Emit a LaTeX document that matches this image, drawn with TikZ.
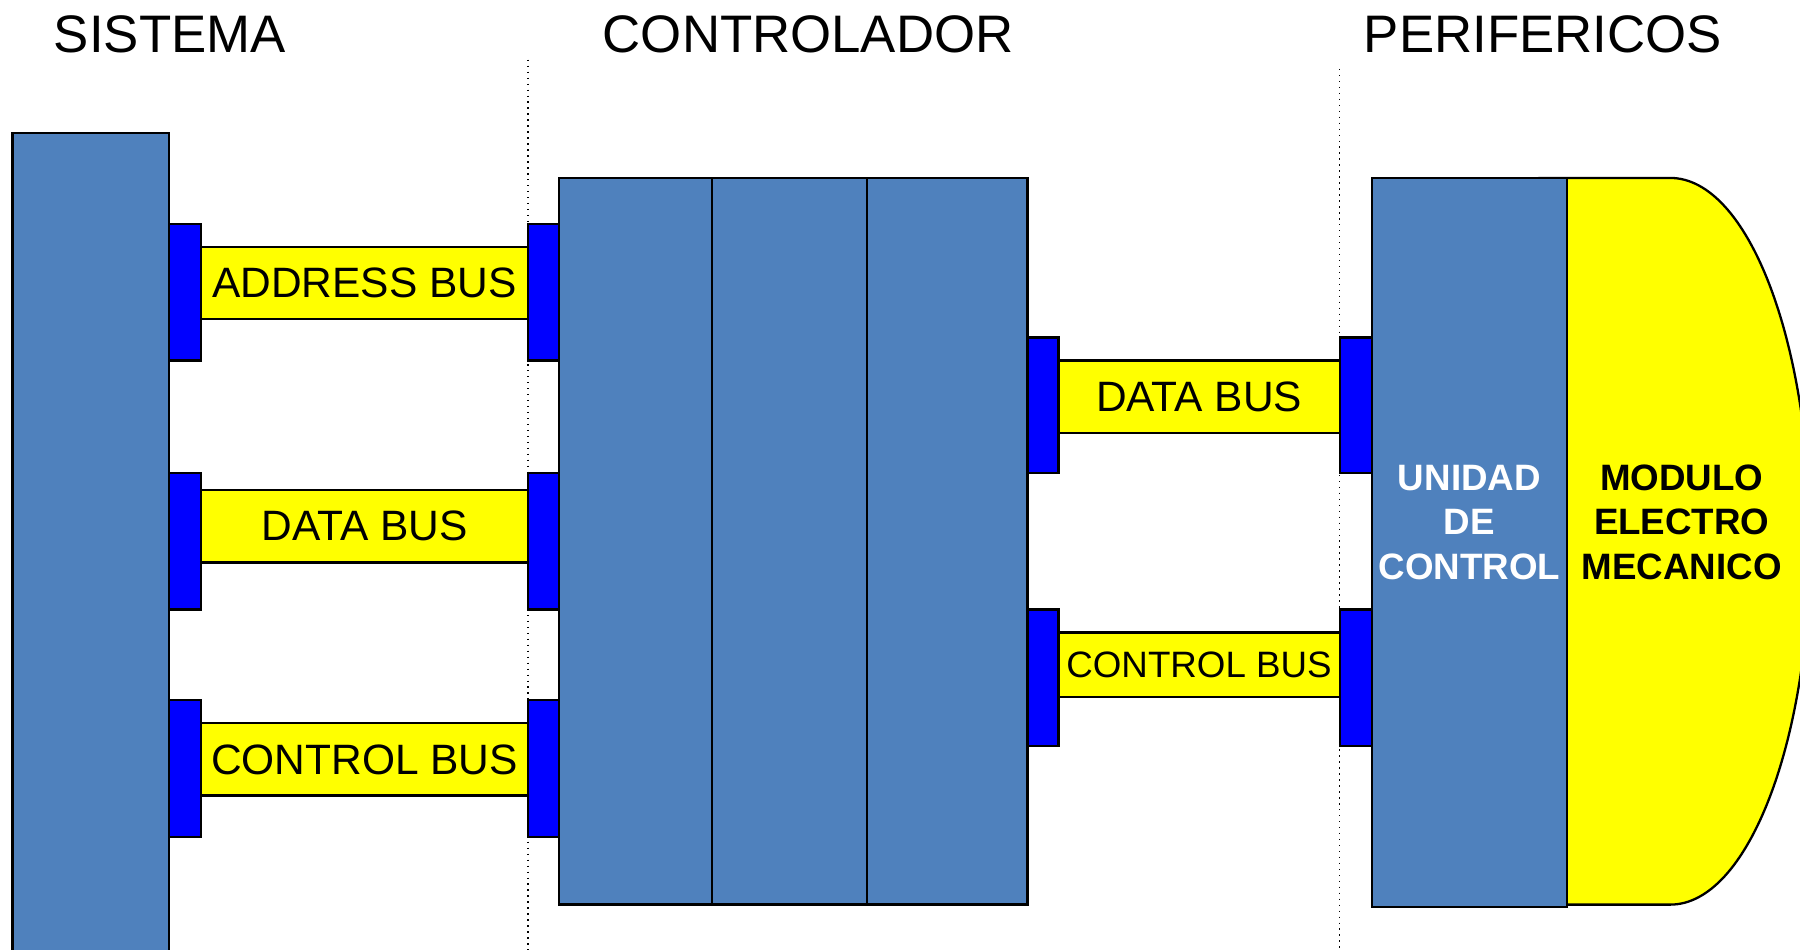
\documentclass[tikz,border=0pt]{standalone}
\usepackage{fontspec}
\setmainfont{Liberation Sans}
\definecolor{steel}{HTML}{4F81BD}
\definecolor{pblue}{HTML}{0000FF}
\definecolor{pyellow}{HTML}{FFFF00}
% #1 style, #2 name, #3 x1, #4 y1, #5 x2, #6 y2, #7 text
\newcommand\rbox[7]{\node[#1, minimum width={(#5-#3)*0.5pt}, minimum height={(#6-#4)*0.5pt}] (#2) at ({(#3+#5)/2},{(#4+#6)/2}) {#7};}
\begin{document}
\begin{tikzpicture}[x=0.5pt,y=-0.5pt,
  box/.style={draw=black, line width=1pt, inner sep=0pt, outer sep=0pt},
  sysbox/.style={box, fill=steel},
  portbox/.style={box, fill=pblue},
  busbox/.style={box, fill=pyellow, font=\fontsize{18.5}{20}\selectfont},
  smallbus/.style={busbox, font=\fontsize{16}{18}\selectfont},
  title/.style={font=\fontsize{23}{26}\selectfont, inner sep=0pt},
  boldlbl/.style={font=\fontsize{16}{19.5}\selectfont\bfseries, align=center, inner sep=0pt},
  divider/.style={dotted, line width=0.6pt}]
\useasboundingbox (0,0) rectangle (1568,827);
\clip (0,0) rectangle (1568,827);
% titles
\node[title] (tsis) at (148,30) {SISTEMA};
\node[title] (tcon) at (704,30) {CONTROLADOR};
\node[title] (tper) at (1344,30) {PERIFERICOS};
% dotted dividers
\coordinate (d1t) at (460,52);
\coordinate (d1b) at (460,830);
\coordinate (d2t) at (1167,60);
\coordinate (d2b) at (1167,830);
\draw[divider] (d1t) -- (d1b);
\draw[divider] (d2t) -- (d2b);
% system
\rbox{sysbox}{sys}{11}{116}{147}{840}{}
% left ports on system
\rbox{portbox}{ps1}{147}{195}{175}{314}{}
\rbox{portbox}{ps2}{147}{412}{175}{531}{}
\rbox{portbox}{ps3}{147}{610}{175}{729}{}
% left buses
\rbox{busbox}{addr}{175}{215}{460}{278}{ADDRESS BUS}
\rbox{busbox}{data}{175}{427}{460}{490}{DATA BUS}
\rbox{busbox}{ctrl}{175}{630}{460}{693}{CONTROL BUS}
% controller ports left
\rbox{portbox}{pc1}{460}{195}{487}{314}{}
\rbox{portbox}{pc2}{460}{412}{487}{531}{}
\rbox{portbox}{pc3}{460}{610}{487}{729}{}
% controller
\rbox{sysbox}{c1}{487}{155}{620}{788}{}
\rbox{sysbox}{c2}{620}{155}{755}{788}{}
\rbox{sysbox}{c3}{755}{155}{895}{788}{}
% controller ports right
\rbox{portbox}{pr1}{895}{294}{922}{412}{}
\rbox{portbox}{pr2}{895}{531}{922}{650}{}
% right buses
\rbox{busbox}{rdata}{922}{314}{1167}{377}{DATA BUS}
\rbox{smallbus}{rctrl}{922}{551}{1167}{607}{CONTROL BUS}
% peripheral ports
\rbox{portbox}{pp1}{1167}{294}{1195}{412}{}
\rbox{portbox}{pp2}{1167}{531}{1195}{650}{}
% electromechanical module
\draw[fill=pyellow, line width=1pt] (1340,155) -- (1455,155)
  arc[start angle=-90, end angle=90, x radius=122, y radius=316.5] -- (1340,788);
\node[boldlbl, text=black] (mod) at (1465,455) {MODULO\\ELECTRO\\MECANICO};
% control unit
\rbox{sysbox}{uc}{1195}{155}{1365}{790}{}
\node[boldlbl, text=white] (uclbl) at (1280,455) {UNIDAD\\DE\\CONTROL};
\end{tikzpicture}
\end{document}
